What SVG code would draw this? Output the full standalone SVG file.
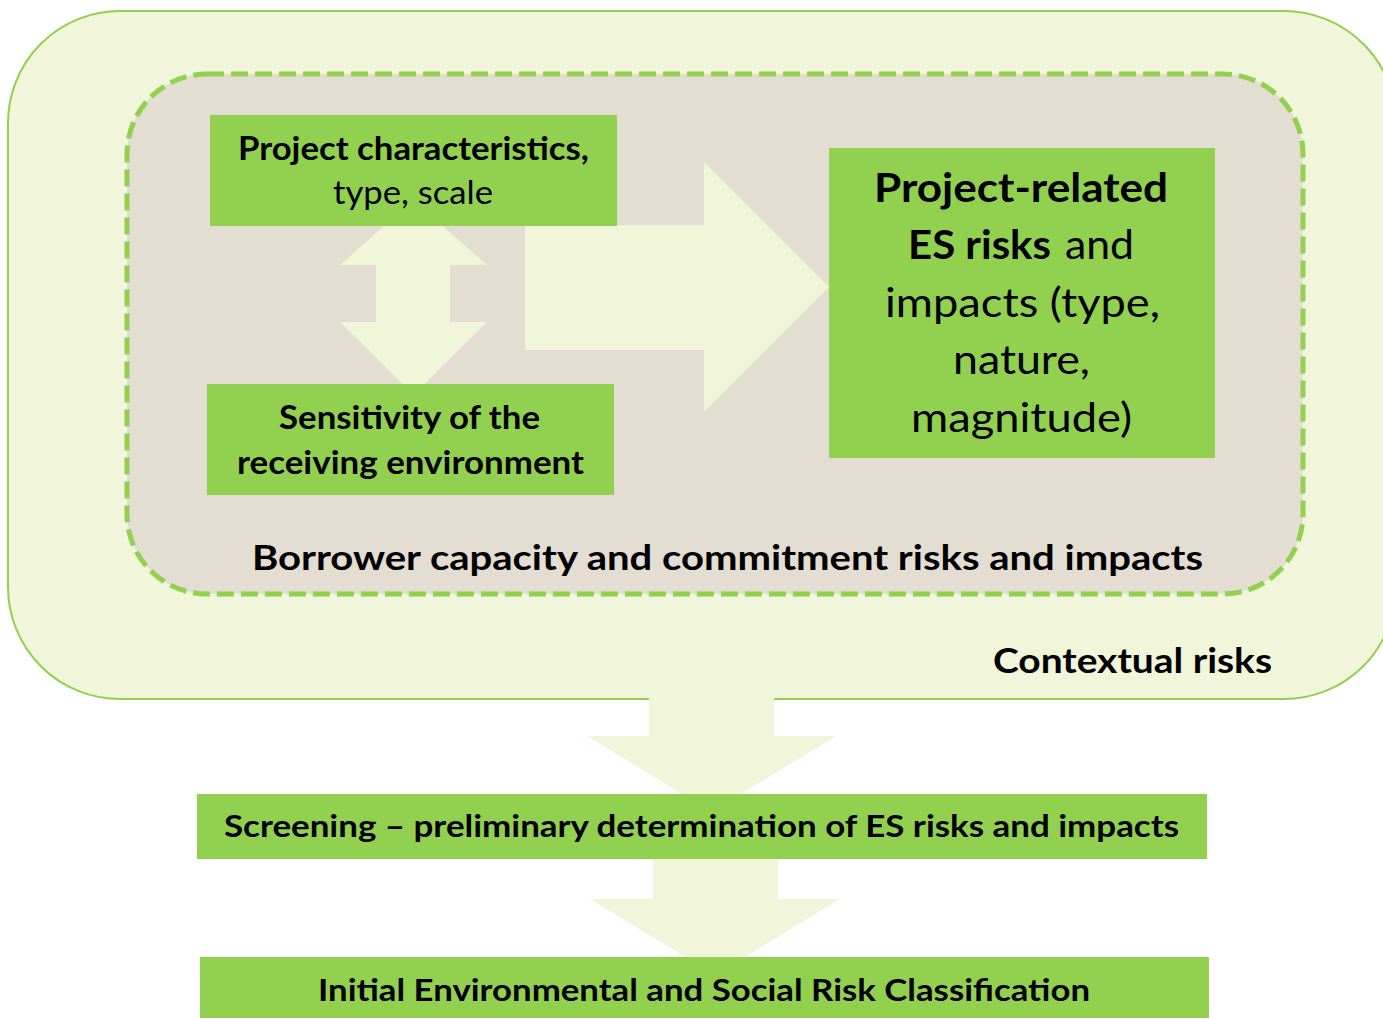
<svg xmlns="http://www.w3.org/2000/svg" width="1383" height="1019" viewBox="0 0 1383 1019">
<style>
.box{fill:#92D050}
.arrow{fill:#F1F5DA}
text{font-family:Lato,"Open Sans","Liberation Sans",sans-serif;fill:#000}
.b{font-weight:bold}
.r{font-weight:normal}
</style>
<rect x="0" y="0" width="1383" height="1019" fill="#FFFFFF"/>
<g id="contextual-risks">
<rect x="8" y="11" width="1388" height="688" rx="112" ry="112" fill="#F1F5DA" stroke="#92D050" stroke-width="2"/>
<text class="b" x="993" y="673" font-size="35" textLength="279" lengthAdjust="spacingAndGlyphs">Contextual risks</text>
</g>
<g id="borrower-capacity">
<rect x="127" y="74" width="1176" height="520" rx="80" ry="80" fill="#E3DDD2" stroke="#92D050" stroke-width="5" stroke-dasharray="17 7"/>
<text class="b" x="252" y="570" font-size="35" textLength="951" lengthAdjust="spacingAndGlyphs">Borrower capacity and commitment risks and impacts</text>
</g>
<g id="connectors">
<polygon class="arrow" points="413.5,200 487,265 450,265 450,322 487,322 413.5,395 340,322 376,322 376,265 340,265"/>
<polygon class="arrow" points="525,225 704,225 704,162 829,287 704,412 704,350 525,350"/>
<polygon class="arrow" points="649,690 774,690 774,736 836,736 711.5,812 587,736 649,736"/>
<polygon class="arrow" points="653,855 778,855 778,899 840,899 715,975 590,899 653,899"/>
</g>
<g id="project-characteristics">
<rect class="box" x="210" y="115" width="407" height="111"/>
<text class="b" x="238" y="160" font-size="32" textLength="351" lengthAdjust="spacingAndGlyphs">Project characteristics,</text>
<text class="r" x="333" y="204" font-size="32" textLength="160" lengthAdjust="spacingAndGlyphs">type, scale</text>
</g>
<g id="sensitivity">
<rect class="box" x="207" y="384" width="407" height="111"/>
<text class="b" x="279" y="429" font-size="32" textLength="261" lengthAdjust="spacingAndGlyphs">Sensitivity of the</text>
<text class="b" x="237" y="474" font-size="32" textLength="347" lengthAdjust="spacingAndGlyphs">receiving environment</text>
</g>
<g id="project-related-risks">
<rect class="box" x="829" y="148" width="386" height="310"/>
<text class="b" x="874" y="202" font-size="40" textLength="294" lengthAdjust="spacingAndGlyphs">Project-related</text>
<text class="b" x="908" y="259" font-size="40" textLength="143" lengthAdjust="spacingAndGlyphs">ES risks</text>
<text class="r" x="1065" y="259" font-size="40" textLength="69" lengthAdjust="spacingAndGlyphs">and</text>
<text class="r" x="885" y="317" font-size="40" textLength="275" lengthAdjust="spacingAndGlyphs">impacts (type,</text>
<text class="r" x="953" y="374" font-size="40" textLength="137" lengthAdjust="spacingAndGlyphs">nature,</text>
<text class="r" x="911" y="432" font-size="40" textLength="221" lengthAdjust="spacingAndGlyphs">magnitude)</text>
</g>
<g id="screening">
<rect class="box" x="197" y="794" width="1010" height="65"/>
<text class="b" x="224" y="837" font-size="31" textLength="955" lengthAdjust="spacingAndGlyphs">Screening – preliminary determination of ES risks and impacts</text>
</g>
<g id="initial-classification">
<rect class="box" x="200" y="957" width="1009" height="61"/>
<text class="b" x="318" y="1001" font-size="31" textLength="772" lengthAdjust="spacingAndGlyphs">Initial Environmental and Social Risk Classification</text>
</g>
</svg>
